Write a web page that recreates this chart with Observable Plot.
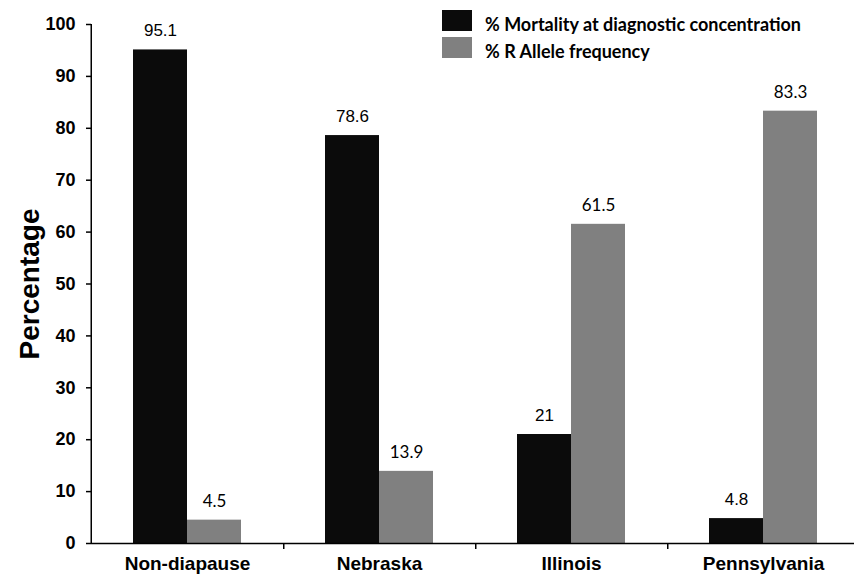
<!DOCTYPE html>
<html>
<head>
<meta charset="utf-8">
<script src="https://cdn.jsdelivr.net/npm/d3@7"></script>
<script src="https://cdn.jsdelivr.net/npm/@observablehq/plot@0.6"></script>
<style>
  body { margin: 0; background: white; }
  #wrap { position: relative; width: 854px; height: 577px; }
  #legend { position: absolute; left: 442px; top: 10px; font-family: Lato, "Open Sans", sans-serif; font-weight: bold; font-size: 18px; color: #000; }
  .lg-row { position: relative; height: 27px; }
  .lg-sw { position: absolute; left: 0; top: 0; width: 30px; height: 21px; }
  .lg-tx { position: absolute; left: 43px; top: 3px; white-space: nowrap; line-height: 22px; }
  g[aria-label="y-axis label"] text { font-size: 28px; font-weight: bold; }
</style>
</head>
<body>
<div id="wrap"></div>
<script>
const categories = ["Non-diapause", "Nebraska", "Illinois", "Pennsylvania"];
const mortality = [95.1, 78.6, 21, 4.8];
const allele = [4.5, 13.9, 61.5, 83.3];
const seriesNames = ["% Mortality at diagnostic concentration", "% R Allele frequency"];
const seriesColors = ["#0b0b0b", "#808080"];
const yTicks = [0, 10, 20, 30, 40, 50, 60, 70, 80, 90, 100];
const yLabel = "Percentage";

const rows = categories.flatMap((c, i) => [
  {category: c, series: seriesNames[0], value: mortality[i]},
  {category: c, series: seriesNames[1], value: allele[i]}
]);

const W = 854, H = 577, ML = 90, MR = -6, MT = 24, MB = 34;
const half = (W - ML - MR) / categories.length / 2;

const chart = Plot.plot({
  width: W, height: H,
  marginLeft: ML, marginRight: MR, marginTop: MT, marginBottom: MB,
  style: {fontFamily: "'Liberation Sans', Arial, sans-serif", color: "#000", background: "white", overflow: "visible"},
  fx: {domain: categories, padding: 0, label: null},
  x: {domain: seriesNames, paddingInner: 0, paddingOuter: 0.75, axis: null},
  y: {domain: [0, 100]},
  color: {domain: seriesNames, range: seriesColors},
  marks: [
    Plot.barY(rows, {fx: "category", x: "series", y: "value", fill: "series"}),
    Plot.ruleY([0], {stroke: "#000", strokeWidth: 1.5}),
    Plot.ruleX([categories[0]], {fx: d => d, x: null, y1: yTicks[0], y2: yTicks[yTicks.length - 1], dx: -half, stroke: "#000", strokeWidth: 1.5}),
    Plot.ruleX(categories.slice(0, -1), {fx: d => d, x: null, y1: 0, y2: 0, insetBottom: -6, dx: half, stroke: "#000", strokeWidth: 1.5}),
    Plot.axisY({ticks: yTicks, tickSize: 5, tickPadding: 11, fontSize: 18, fontWeight: "bold", label: yLabel, labelAnchor: "center", labelOffset: 72, labelArrow: "none", stroke: "#000", strokeWidth: 1.5, strokeOpacity: 1}),
    Plot.axisFx({anchor: "bottom", tickSize: 0, tickPadding: 13, fontSize: 19, fontWeight: "bold", label: null}),
    Plot.text(rows.filter(d => d.series === seriesNames[0]), {fx: "category", x: "series", y: "value", text: d => String(d.value), dy: -19, fontSize: 17, fill: "#000"}),
    Plot.text(rows.filter(d => d.series === seriesNames[1]), {fx: "category", x: "series", y: "value", text: d => String(d.value), dy: -19, fontSize: 17, fontFamily: "Lato, 'Open Sans', sans-serif", fill: "#000"})
  ]
});

const wrap = document.getElementById("wrap");
wrap.appendChild(chart);

const legend = document.createElement("div");
legend.id = "legend";
seriesNames.forEach((name, i) => {
  const row = document.createElement("div");
  row.className = "lg-row";
  const sw = document.createElement("div");
  sw.className = "lg-sw";
  sw.style.background = seriesColors[i];
  const tx = document.createElement("div");
  tx.className = "lg-tx";
  tx.textContent = name;
  row.appendChild(sw);
  row.appendChild(tx);
  legend.appendChild(row);
});
wrap.appendChild(legend);
</script>
</body>
</html>
